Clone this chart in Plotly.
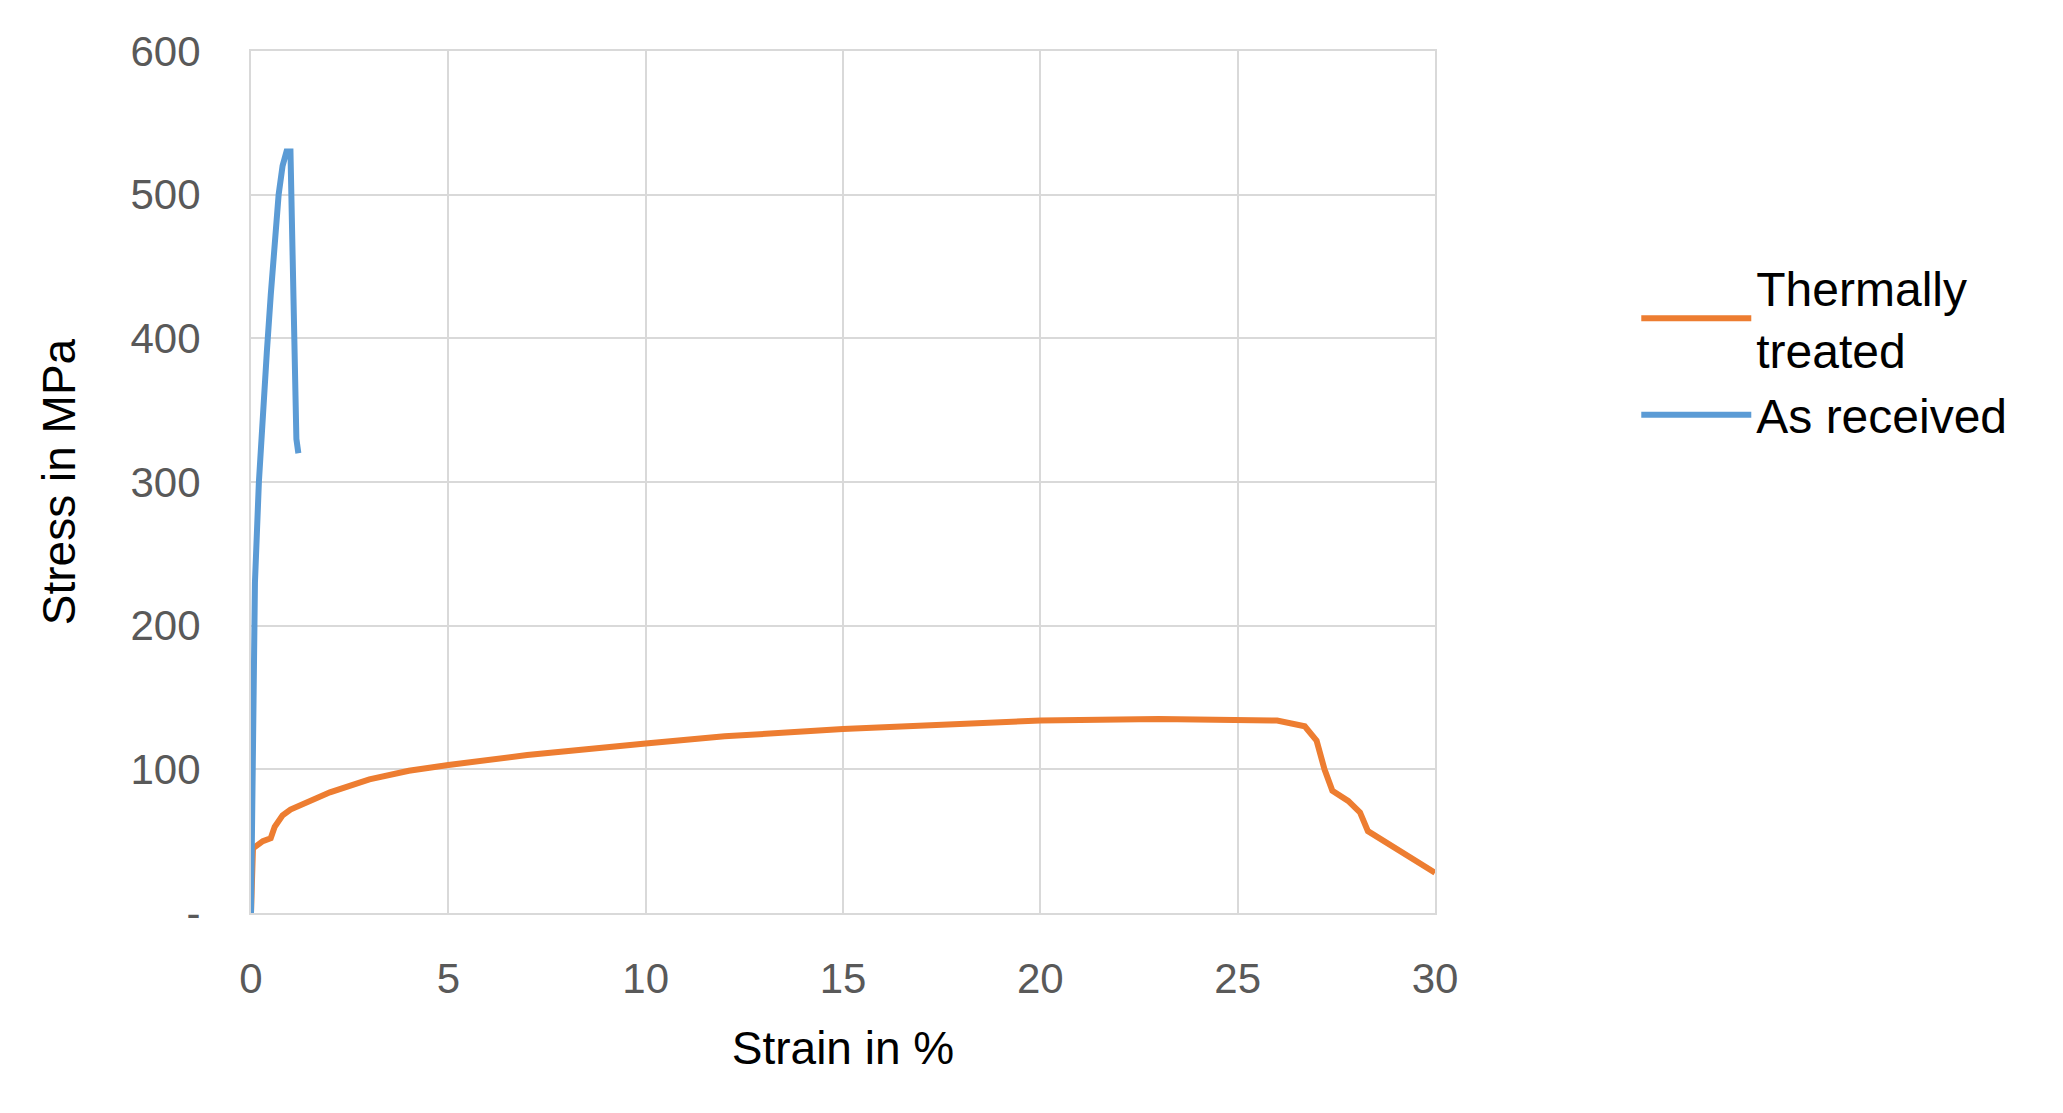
import plotly.graph_objs as go

# Stress-strain curves
thermal_strain = [0, 0.05, 0.3, 0.5, 0.6, 0.8, 1.0, 1.5, 2, 3, 4, 5, 7, 10, 12, 15, 18, 20,
                  23, 25, 26, 26.7, 27.0, 27.2, 27.4, 27.8, 28.1, 28.3, 29, 30]
thermal_stress = [0, 45, 50, 52, 60, 68, 72, 78, 84, 93, 99, 103, 110, 118, 123, 128, 132, 134,
                  135, 135, 134, 130, 120, 100, 85, 78, 70, 57, 45, 28]

received_strain = [0, 0.05, 0.1, 0.2, 0.3, 0.4, 0.5, 0.6, 0.7, 0.8, 0.9, 1.0, 1.05, 1.15, 1.2]
received_stress = [0, 150, 230, 300, 350, 390, 430, 470, 500, 520, 530, 530, 450, 330, 320]

y_ticks = [0, 100, 200, 300, 400, 500, 600]
y_labels = ['-', '100', '200', '300', '400', '500', '600']

fig = go.Figure()
fig.add_trace(go.Scatter(x=thermal_strain, y=thermal_stress, mode='lines',
                         name='Thermally<br>treated', line=dict(color='#ED7D31', width=6)))
fig.add_trace(go.Scatter(x=received_strain, y=received_stress, mode='lines',
                         name='As received', line=dict(color='#5B9BD5', width=6)))

grid = '#D9D9D9'
fig.update_xaxes(range=[0, 30], dtick=5, showgrid=True, gridcolor=grid, gridwidth=2,
                 showline=True, linecolor=grid, linewidth=2, mirror=True, zeroline=False,
                 ticks='', ticklabelstandoff=28,
                 tickfont=dict(size=42, color='#595959', family='Liberation Sans'),
                 title=dict(text='Strain in %', standoff=30,
                            font=dict(size=46, color='#000000', family='Liberation Sans')))
fig.update_yaxes(range=[0, 600], tickvals=y_ticks, ticktext=y_labels, showgrid=True,
                 gridcolor=grid, gridwidth=2, showline=True, linecolor=grid, linewidth=2,
                 mirror=True, zeroline=False, ticks='', ticklabelstandoff=40,
                 tickfont=dict(size=42, color='#595959', family='Liberation Sans'),
                 title=dict(text='Stress in MPa', standoff=40,
                            font=dict(size=46, color='#000000', family='Liberation Sans')))

fig.update_layout(width=2063, height=1113, plot_bgcolor='white', paper_bgcolor='white',
                  margin=dict(l=243, r=636, t=43, b=208),
                  legend=dict(x=1.17, y=0.77, xanchor='left', yanchor='top',
                              font=dict(size=48, color='#000000', family='Liberation Sans'),
                              itemwidth=110, tracegroupgap=45))

fig.write_html("out.html")
